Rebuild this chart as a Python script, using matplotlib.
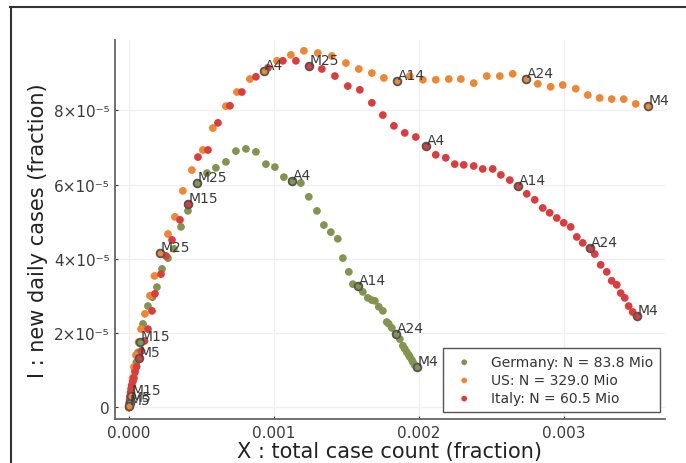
import matplotlib
matplotlib.use("Agg")
import matplotlib.pyplot as plt
from matplotlib.lines import Line2D
import numpy as np

# ---- data (x in units of 1e-3, y in units of 1e-5), daily from Feb 24 to May 4
germany_x = [0, 0, 0, 0, 0.0006, 0.0008, 0.0013, 0.0019, 0.0024, 0.0031,
             0.006, 0.0082, 0.0109, 0.0145, 0.0187, 0.024, 0.032, 0.041, 0.051, 0.062,
             0.076, 0.097, 0.131, 0.162, 0.193, 0.228, 0.269, 0.310, 0.359, 0.407,
             0.469, 0.538, 0.600, 0.669, 0.738, 0.807, 0.876, 0.945, 1.007, 1.069,
             1.124, 1.186, 1.241, 1.297, 1.345, 1.393, 1.441, 1.476, 1.517, 1.545,
             1.579, 1.614, 1.648, 1.676, 1.697, 1.724, 1.752, 1.779, 1.793, 1.814,
             1.841, 1.869, 1.890, 1.903, 1.917, 1.931, 1.938, 1.952, 1.959, 1.972,
             1.986]
germany_y = [0, 0, 0.005, 0.02, 0.03, 0.04, 0.06, 0.07, 0.09, 0.10,
             0.12, 0.16, 0.22, 0.30, 0.40, 0.55, 0.75, 1.00, 1.22, 1.48,
             1.76, 2.25, 2.73, 2.97, 3.24, 3.73, 4.02, 4.27, 4.86, 5.29,
             6.04, 6.31, 6.45, 6.61, 6.90, 6.96, 6.88, 6.55, 6.47, 6.20,
             6.10, 6.04, 5.67, 5.29, 4.91, 4.72, 4.54, 4.02, 3.65, 3.32,
             3.27, 3.11, 2.95, 2.89, 2.87, 2.71, 2.60, 2.30, 2.25, 2.14,
             1.98, 1.84, 1.66, 1.58, 1.49, 1.41, 1.36, 1.28, 1.22, 1.14,
             1.09]

us_x = [0, 0, 0, 0, 0, 0.0002, 0.0002, 0.0003, 0.0004, 0.0005,
        0.0007, 0.0014, 0.002, 0.003, 0.0035, 0.005, 0.006, 0.0076, 0.009, 0.010,
        0.012, 0.018, 0.025, 0.034, 0.048, 0.066, 0.083, 0.110, 0.145, 0.176,
        0.214, 0.269, 0.317, 0.372, 0.434, 0.510, 0.579, 0.669, 0.745, 0.834,
        0.931, 1.021, 1.117, 1.207, 1.303, 1.400, 1.497, 1.586, 1.676, 1.759,
        1.848, 1.938, 2.028, 2.117, 2.207, 2.290, 2.379, 2.469, 2.559, 2.648,
        2.738, 2.821, 2.910, 2.993, 3.083, 3.166, 3.248, 3.331, 3.414, 3.497,
        3.579]
us_y = [0, 0, 0, 0.003, 0.005, 0.008, 0.01, 0.015, 0.02, 0.025,
        0.03, 0.04, 0.07, 0.09, 0.12, 0.15, 0.20, 0.23, 0.26, 0.28,
        0.31, 0.525, 0.794, 1.09, 1.41, 1.76, 2.11, 2.52, 3.01, 3.54,
        4.16, 4.67, 5.13, 5.83, 6.39, 6.93, 7.52, 8.11, 8.49, 8.84,
        9.06, 9.33, 9.49, 9.60, 9.54, 9.46, 9.27, 9.11, 9.00, 8.87,
        8.79, 8.92, 8.82, 8.82, 8.84, 8.84, 8.73, 8.92, 8.92, 8.98,
        8.84, 8.71, 8.63, 8.68, 8.58, 8.41, 8.33, 8.30, 8.30, 8.17,
        8.12]

italy_x = [0.004, 0.005, 0.007, 0.011, 0.015, 0.019, 0.026, 0.034, 0.042, 0.053,
           0.069, 0.086, 0.107, 0.131, 0.159, 0.179, 0.221, 0.255, 0.297, 0.352,
           0.407, 0.476, 0.545, 0.614, 0.697, 0.779, 0.876, 0.959, 1.062, 1.152,
           1.241, 1.331, 1.421, 1.510, 1.593, 1.676, 1.752, 1.828, 1.903, 1.979,
           2.048, 2.117, 2.186, 2.248, 2.310, 2.379, 2.441, 2.510, 2.566, 2.628,
           2.683, 2.745, 2.800, 2.855, 2.903, 2.952, 3.000, 3.048, 3.090, 3.131,
           3.179, 3.214, 3.255, 3.297, 3.331, 3.366, 3.393, 3.421, 3.448, 3.476,
           3.503]
italy_y = [0.15, 0.20, 0.30, 0.40, 0.50, 0.60, 0.70, 0.80, 0.95, 1.10,
           1.33, 1.52, 1.79, 2.11, 2.60, 3.06, 3.59, 4.08, 4.51, 5.05,
           5.48, 6.74, 6.93, 7.66, 8.12, 8.49, 8.90, 9.14, 9.33, 9.33,
           9.19, 9.11, 8.92, 8.65, 8.55, 8.20, 7.87, 7.58, 7.39, 7.28,
           7.04, 6.80, 6.72, 6.55, 6.53, 6.50, 6.42, 6.42, 6.26, 6.12,
           5.96, 5.75, 5.59, 5.37, 5.24, 5.10, 4.97, 4.86, 4.59, 4.43,
           4.29, 4.13, 3.84, 3.65, 3.41, 3.30, 3.08, 2.95, 2.73, 2.57,
           2.46]

series_names = ["Germany: N = 83.8 Mio", "US: N = 329.0 Mio", "Italy: N = 60.5 Mio"]
series_colors = ["#84934f", "#ef8632", "#dc3d3c"]

mark_labels = ["M5", "M15", "M25", "A4", "A14", "A24", "M4"]
mark_index = [10, 20, 30, 40, 50, 60, 70]

x_ticks = [0.0, 0.001, 0.002, 0.003]
x_tick_labels = ["0.000", "0.001", "0.002", "0.003"]
y_ticks = [0, 2e-5, 4e-5, 6e-5, 8e-5]
y_tick_labels = ["0", "2×10⁻⁵", "4×10⁻⁵", "6×10⁻⁵", "8×10⁻⁵"]

# ---- figure
plt.rcParams['font.family'] = ['DejaVu Sans']
fig = plt.figure(figsize=(6.86, 4.64), dpi=100)
ax = fig.add_axes([0.1676, 0.0948, 0.8014, 0.8168])

xs = [np.array(germany_x) * 1e-3, np.array(us_x) * 1e-3, np.array(italy_x) * 1e-3]
ys = [np.array(germany_y) * 1e-5, np.array(us_y) * 1e-5, np.array(italy_y) * 1e-5]

msize = 31
for i, (x, y) in enumerate(zip(xs, ys)):
    ax.scatter(x, y, s=msize, color=series_colors[i], edgecolors='none',
               label=series_names[i], zorder=3 + i)

for i, (x, y) in enumerate(zip(xs, ys)):
    mx = x[mark_index]
    my = y[mark_index]
    ax.scatter(mx, my, s=msize, facecolor=series_colors[i], edgecolors='#555555',
               linewidths=1.3, zorder=7)
    for lab, px, py in zip(mark_labels, mx, my):
        ax.annotate(lab, (px, py), xytext=(0.7, 1.6), textcoords='offset points',
                    ha='left', va='baseline', fontsize=10, color='#3a3a3a', zorder=8)

ax.set_xlim(-9.66e-5, 3.697e-3)
ax.set_ylim(-3.1e-6, 9.89e-5)
ax.set_xticks(x_ticks)
ax.set_xticklabels(x_tick_labels)
ax.set_yticks(y_ticks)
ax.set_yticklabels(y_tick_labels)
ax.tick_params(axis='both', labelsize=11, colors='#3a3a3a', length=2, width=0.8,
               direction='in', pad=4)
ax.grid(True, color='#efefef', linewidth=0.9)
ax.set_axisbelow(True)
for s in ['top', 'right']:
    ax.spines[s].set_visible(False)
for s in ['left', 'bottom']:
    ax.spines[s].set_color('#666666')
    ax.spines[s].set_linewidth(1.3)

ax.set_xlabel("X : total case count (fraction)", fontsize=15, color='#222222', labelpad=1)
ax.set_ylabel("I : new daily cases (fraction)", fontsize=15, color='#222222', labelpad=4)

leg = ax.legend(loc='lower right', bbox_to_anchor=(0.991, 0.018), borderaxespad=0,
                fontsize=10, frameon=True, fancybox=False, framealpha=1,
                edgecolor='#555555', labelspacing=0.3, handletextpad=0.9,
                markerscale=0.75, borderpad=0.5)
leg.get_frame().set_linewidth(1.0)
for t in leg.get_texts():
    t.set_color('#333333')

# outer frame lines (top and left)
fig.add_artist(Line2D([10 / 686, 1.0], [1 - 7.5 / 464, 1 - 7.5 / 464],
                      transform=fig.transFigure, color='#333333', linewidth=1.5))
fig.add_artist(Line2D([11 / 686, 11 / 686], [0.0, 1 - 7.5 / 464],
                      transform=fig.transFigure, color='#333333', linewidth=1.5))

fig.savefig("out.png", dpi=100)
